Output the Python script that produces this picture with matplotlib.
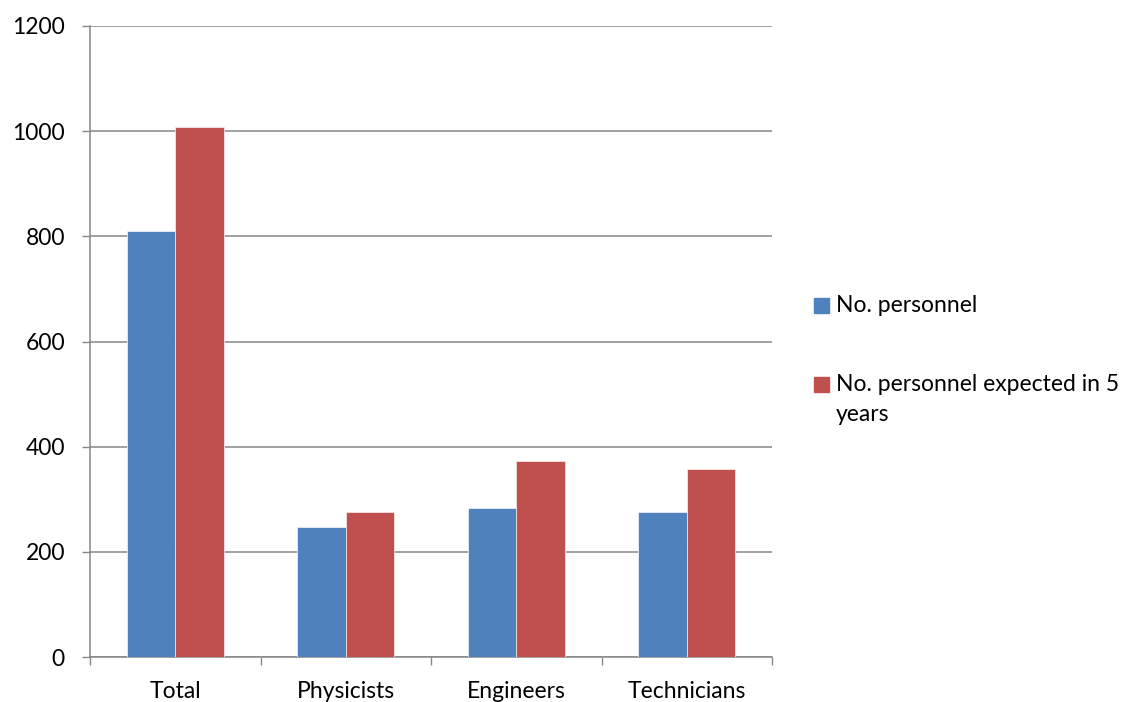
import matplotlib.pyplot as plt
import numpy as np
from matplotlib.patches import Rectangle

categories = ["Total", "Physicists", "Engineers", "Technicians"]
personnel = [810, 247, 284, 275]
personnel_5y = [1007, 275, 373, 358]
series_labels = ["No. personnel", "No. personnel expected in 5\nyears"]
colors = ["#4F81BD", "#C0504D"]

plt.rcParams["font.family"] = ["Lato", "DejaVu Sans"]

W, H = 1141, 702
fig = plt.figure(figsize=(W / 100, H / 100), dpi=100)
ax = fig.add_axes([90 / W, 45 / H, 682 / W, 631 / H])

x = np.arange(len(categories))
w = 0.285
ax.bar(x - w / 2, personnel, w, color=colors[0], edgecolor="#E8EEF6",
       linewidth=0.6, zorder=3)
ax.bar(x + w / 2, personnel_5y, w, color=colors[1], edgecolor="#F4E3E3",
       linewidth=0.6, zorder=3)

ax.set_xlim(-0.5, len(categories) - 0.5)
ax.set_ylim(0, 1200)
ax.set_yticks(range(0, 1201, 200))
ax.yaxis.grid(True, color="#868686", linewidth=1.1, zorder=0)

# tick marks at category boundaries, labels at the centres
ax.set_xticks(np.arange(-0.5, len(categories), 1.0))
ax.set_xticklabels([])
ax.set_xticks(x, minor=True)
ax.set_xticklabels(categories, minor=True)
ax.tick_params(axis="x", which="major", length=6, width=1, color="#868686")
ax.tick_params(axis="x", which="minor", length=0, pad=17, labelsize=16.5)
ax.tick_params(axis="y", length=6, width=1, color="#868686", pad=12,
               labelsize=16.5)

for s in ["top", "right"]:
    ax.spines[s].set_visible(False)
for s in ["left", "bottom"]:
    ax.spines[s].set_color("#868686")
    ax.spines[s].set_linewidth(1.1)

# legend drawn by hand so the red square lines up with the first text line
legend_y = [305, 384]
for c, lab, yy in zip(colors, series_labels, legend_y):
    fig.patches.append(Rectangle((814 / W, 1 - (yy + 7.5) / H), 15 / W, 15 / H,
                                 transform=fig.transFigure, color=c))
    fig.text(836 / W, 1 - (yy - 10) / H, lab, fontsize=16.5, va="top",
             ha="left", linespacing=1.55)

plt.savefig("out.png", dpi=100)
